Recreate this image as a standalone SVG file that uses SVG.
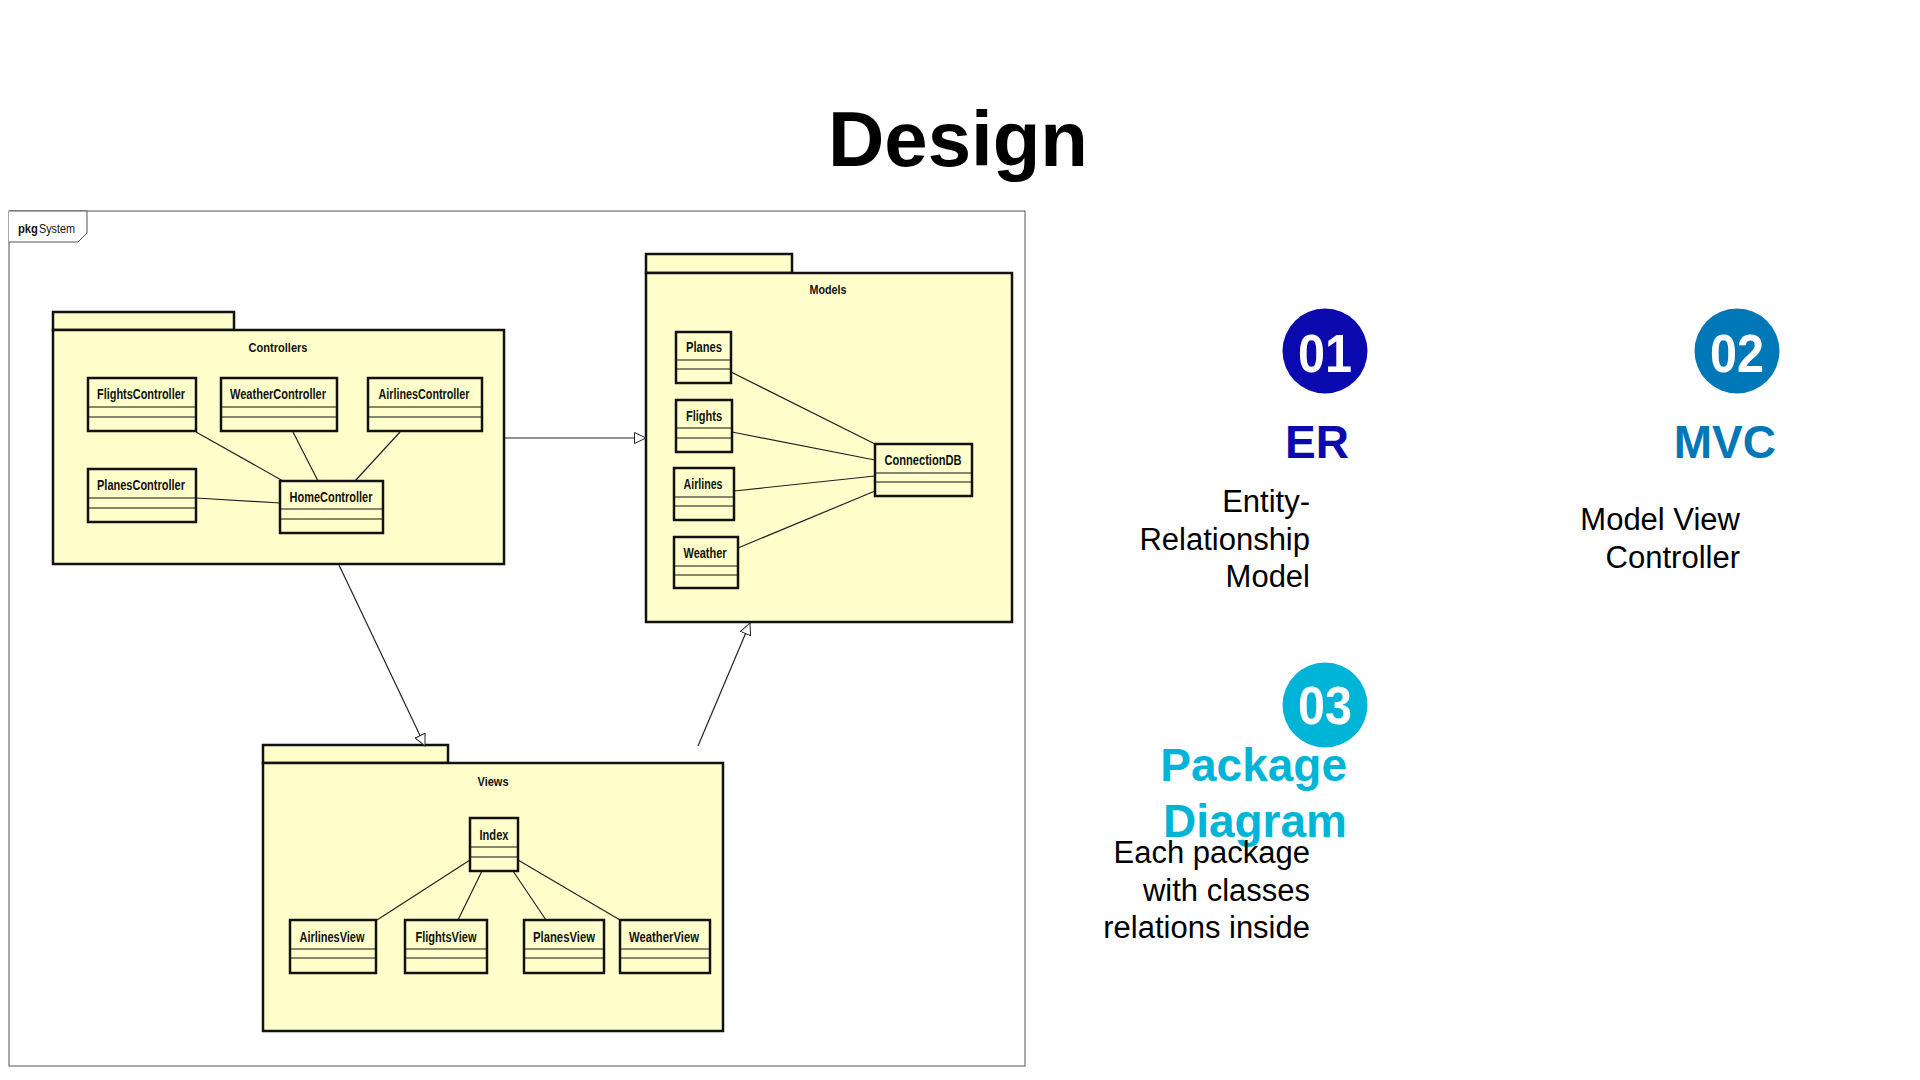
<svg xmlns="http://www.w3.org/2000/svg" width="1920" height="1080" viewBox="0 0 1920 1080">
<style>
.pkg{fill:#FFFFCC;stroke:#111;stroke-width:2.5}
.cls{fill:#FFFFCC;stroke:#111;stroke-width:2.5}
.div{stroke:#111;stroke-width:1}
.cn{font-family:"Liberation Sans",Arial,sans-serif;font-weight:bold;font-size:14px;fill:#111;text-anchor:middle}
.pn{font-family:"Liberation Sans",Arial,sans-serif;font-weight:bold;font-size:13px;fill:#111;text-anchor:middle}
.edge{stroke:#222;stroke-width:1.2;fill:none}
.num{font-family:"Liberation Sans",Arial,sans-serif;font-weight:bold;font-size:53px;fill:#fff;text-anchor:middle}
.hd{font-family:"Liberation Sans",Arial,sans-serif;font-weight:bold;font-size:46px;text-anchor:end}
.bd{font-family:"Liberation Sans",Arial,sans-serif;font-size:31px;fill:#000;text-anchor:end}
</style>
<defs>
<marker id="gen" markerUnits="userSpaceOnUse" markerWidth="14" markerHeight="14" refX="12" refY="6" orient="auto">
<path d="M0.5,0.5 L12,6 L0.5,11.5 Z" fill="#fff" stroke="#222" stroke-width="1"/>
</marker>
</defs>
<rect width="1920" height="1080" fill="#fff"/>

<text x="958" y="166" font-family="Liberation Sans,Arial,sans-serif" font-weight="bold" font-size="78" text-anchor="middle" fill="#000">Design</text>

<g id="frame">
<rect x="9" y="211" width="1016" height="855" fill="#fff" stroke="#555" stroke-width="1"/>
<path d="M9,211 L87,211 L87,233 L78,242 L9,242" fill="#fff" stroke="#555" stroke-width="1"/>
<text x="18" y="233" font-family="Liberation Sans,Arial,sans-serif" font-size="13" fill="#111"><tspan font-weight="bold" textLength="20" lengthAdjust="spacingAndGlyphs">pkg</tspan><tspan x="39" textLength="36" lengthAdjust="spacingAndGlyphs">System</tspan></text>
</g>

<g id="pkg-controllers">
<rect class="pkg" x="53" y="312" width="181" height="18"/>
<rect class="pkg" x="53" y="330" width="451" height="234"/>
<text class="pn" x="278" y="352" textLength="59" lengthAdjust="spacingAndGlyphs">Controllers</text>
</g>
<g id="pkg-models">
<rect class="pkg" x="646" y="254" width="146" height="19"/>
<rect class="pkg" x="646" y="273" width="366" height="349"/>
<text class="pn" x="828" y="294" textLength="37" lengthAdjust="spacingAndGlyphs">Models</text>
</g>
<g id="pkg-views">
<rect class="pkg" x="263" y="745" width="185" height="18"/>
<rect class="pkg" x="263" y="763" width="460" height="268"/>
<text class="pn" x="493" y="786" textLength="31" lengthAdjust="spacingAndGlyphs">Views</text>
</g>

<g id="connectors">
<line class="edge" x1="196" y1="432" x2="283" y2="481"/>
<line class="edge" x1="293" y1="432" x2="318" y2="481"/>
<line class="edge" x1="400" y1="432" x2="355" y2="481"/>
<line class="edge" x1="196" y1="498" x2="280" y2="503"/>
<line class="edge" x1="731" y1="372" x2="875" y2="444"/>
<line class="edge" x1="732" y1="432" x2="875" y2="460"/>
<line class="edge" x1="734" y1="491" x2="875" y2="476"/>
<line class="edge" x1="738" y1="548" x2="875" y2="491"/>
<line class="edge" x1="470" y1="860" x2="377" y2="920"/>
<line class="edge" x1="482" y1="871" x2="458" y2="920"/>
<line class="edge" x1="513" y1="871" x2="546" y2="920"/>
<line class="edge" x1="518" y1="860" x2="620" y2="920"/>
<line class="edge" x1="505" y1="438" x2="646" y2="438" marker-end="url(#gen)"/>
<line class="edge" x1="339" y1="565" x2="425" y2="746" marker-end="url(#gen)"/>
<line class="edge" x1="698" y1="746" x2="750" y2="623" marker-end="url(#gen)"/>
</g>

<g id="FlightsController">
<rect class="cls" x="88" y="378" width="108" height="53"/>
<line class="div" x1="88" y1="407" x2="196" y2="407"/><line class="div" x1="88" y1="417" x2="196" y2="417"/>
<text class="cn" x="141" y="399" textLength="88" lengthAdjust="spacingAndGlyphs">FlightsController</text>
</g>
<g id="WeatherController">
<rect class="cls" x="221" y="378" width="116" height="53"/>
<line class="div" x1="221" y1="407" x2="337" y2="407"/><line class="div" x1="221" y1="417" x2="337" y2="417"/>
<text class="cn" x="278" y="399" textLength="96" lengthAdjust="spacingAndGlyphs">WeatherController</text>
</g>
<g id="AirlinesController">
<rect class="cls" x="368" y="378" width="114" height="53"/>
<line class="div" x1="368" y1="407" x2="482" y2="407"/><line class="div" x1="368" y1="417" x2="482" y2="417"/>
<text class="cn" x="424" y="399" textLength="91" lengthAdjust="spacingAndGlyphs">AirlinesController</text>
</g>
<g id="PlanesController">
<rect class="cls" x="88" y="469" width="108" height="53"/>
<line class="div" x1="88" y1="498" x2="196" y2="498"/><line class="div" x1="88" y1="508" x2="196" y2="508"/>
<text class="cn" x="141" y="490" textLength="88" lengthAdjust="spacingAndGlyphs">PlanesController</text>
</g>
<g id="HomeController">
<rect class="cls" x="280" y="481" width="103" height="52"/>
<line class="div" x1="280" y1="509" x2="383" y2="509"/><line class="div" x1="280" y1="519" x2="383" y2="519"/>
<text class="cn" x="331" y="502" textLength="83" lengthAdjust="spacingAndGlyphs">HomeController</text>
</g>

<g id="Planes">
<rect class="cls" x="676" y="332" width="55" height="51"/>
<line class="div" x1="676" y1="360" x2="731" y2="360"/><line class="div" x1="676" y1="369" x2="731" y2="369"/>
<text class="cn" x="704" y="352" textLength="36" lengthAdjust="spacingAndGlyphs">Planes</text>
</g>
<g id="Flights">
<rect class="cls" x="676" y="400" width="56" height="52"/>
<line class="div" x1="676" y1="428" x2="732" y2="428"/><line class="div" x1="676" y1="438" x2="732" y2="438"/>
<text class="cn" x="704" y="421" textLength="36" lengthAdjust="spacingAndGlyphs">Flights</text>
</g>
<g id="Airlines">
<rect class="cls" x="674" y="468" width="60" height="52"/>
<line class="div" x1="674" y1="497" x2="734" y2="497"/><line class="div" x1="674" y1="506" x2="734" y2="506"/>
<text class="cn" x="703" y="489" textLength="39" lengthAdjust="spacingAndGlyphs">Airlines</text>
</g>
<g id="Weather">
<rect class="cls" x="674" y="537" width="64" height="51"/>
<line class="div" x1="674" y1="566" x2="738" y2="566"/><line class="div" x1="674" y1="575" x2="738" y2="575"/>
<text class="cn" x="705" y="558" textLength="43" lengthAdjust="spacingAndGlyphs">Weather</text>
</g>
<g id="ConnectionDB">
<rect class="cls" x="875" y="444" width="97" height="52"/>
<line class="div" x1="875" y1="473" x2="972" y2="473"/><line class="div" x1="875" y1="482" x2="972" y2="482"/>
<text class="cn" x="923" y="465" textLength="77" lengthAdjust="spacingAndGlyphs">ConnectionDB</text>
</g>

<g id="Index">
<rect class="cls" x="470" y="818" width="48" height="53"/>
<line class="div" x1="470" y1="847" x2="518" y2="847"/><line class="div" x1="470" y1="857" x2="518" y2="857"/>
<text class="cn" x="494" y="840" textLength="29" lengthAdjust="spacingAndGlyphs">Index</text>
</g>
<g id="AirlinesView">
<rect class="cls" x="290" y="920" width="86" height="53"/>
<line class="div" x1="290" y1="949" x2="376" y2="949"/><line class="div" x1="290" y1="958" x2="376" y2="958"/>
<text class="cn" x="332" y="942" textLength="65" lengthAdjust="spacingAndGlyphs">AirlinesView</text>
</g>
<g id="FlightsView">
<rect class="cls" x="405" y="920" width="82" height="53"/>
<line class="div" x1="405" y1="949" x2="487" y2="949"/><line class="div" x1="405" y1="958" x2="487" y2="958"/>
<text class="cn" x="446" y="942" textLength="61" lengthAdjust="spacingAndGlyphs">FlightsView</text>
</g>
<g id="PlanesView">
<rect class="cls" x="524" y="920" width="80" height="53"/>
<line class="div" x1="524" y1="949" x2="604" y2="949"/><line class="div" x1="524" y1="958" x2="604" y2="958"/>
<text class="cn" x="564" y="942" textLength="62" lengthAdjust="spacingAndGlyphs">PlanesView</text>
</g>
<g id="WeatherView">
<rect class="cls" x="620" y="920" width="90" height="53"/>
<line class="div" x1="620" y1="949" x2="710" y2="949"/><line class="div" x1="620" y1="958" x2="710" y2="958"/>
<text class="cn" x="664" y="942" textLength="70" lengthAdjust="spacingAndGlyphs">WeatherView</text>
</g>

<g id="item-01">
<circle cx="1325" cy="351" r="42.5" fill="#0A0AAE"/>
<text class="num" x="1325" y="372" textLength="54" lengthAdjust="spacingAndGlyphs">01</text>
<text class="hd" x="1349" y="458" fill="#0A0AAE">ER</text>
<text class="bd" x="1310" y="512">Entity-</text>
<text class="bd" x="1310" y="550">Relationship</text>
<text class="bd" x="1310" y="587">Model</text>
</g>
<g id="item-02">
<circle cx="1737" cy="351" r="42.5" fill="#0077B6"/>
<text class="num" x="1737" y="372" textLength="54" lengthAdjust="spacingAndGlyphs">02</text>
<text class="hd" x="1776" y="458" font-size="47" fill="#0077B6">MVC</text>
<text class="bd" x="1740" y="530">Model View</text>
<text class="bd" x="1740" y="568">Controller</text>
</g>
<g id="item-03">
<circle cx="1325" cy="705" r="42.5" fill="#00B4D8"/>
<text class="num" x="1325" y="724" textLength="54" lengthAdjust="spacingAndGlyphs">03</text>
<text class="hd" x="1347" y="781" font-size="48" fill="#00B4D8">Package</text>
<text class="hd" x="1347" y="837" font-size="48" fill="#00B4D8">Diagram</text>
<text class="bd" x="1310" y="863">Each package</text>
<text class="bd" x="1310" y="901">with classes</text>
<text class="bd" x="1310" y="938">relations inside</text>
</g>
</svg>
